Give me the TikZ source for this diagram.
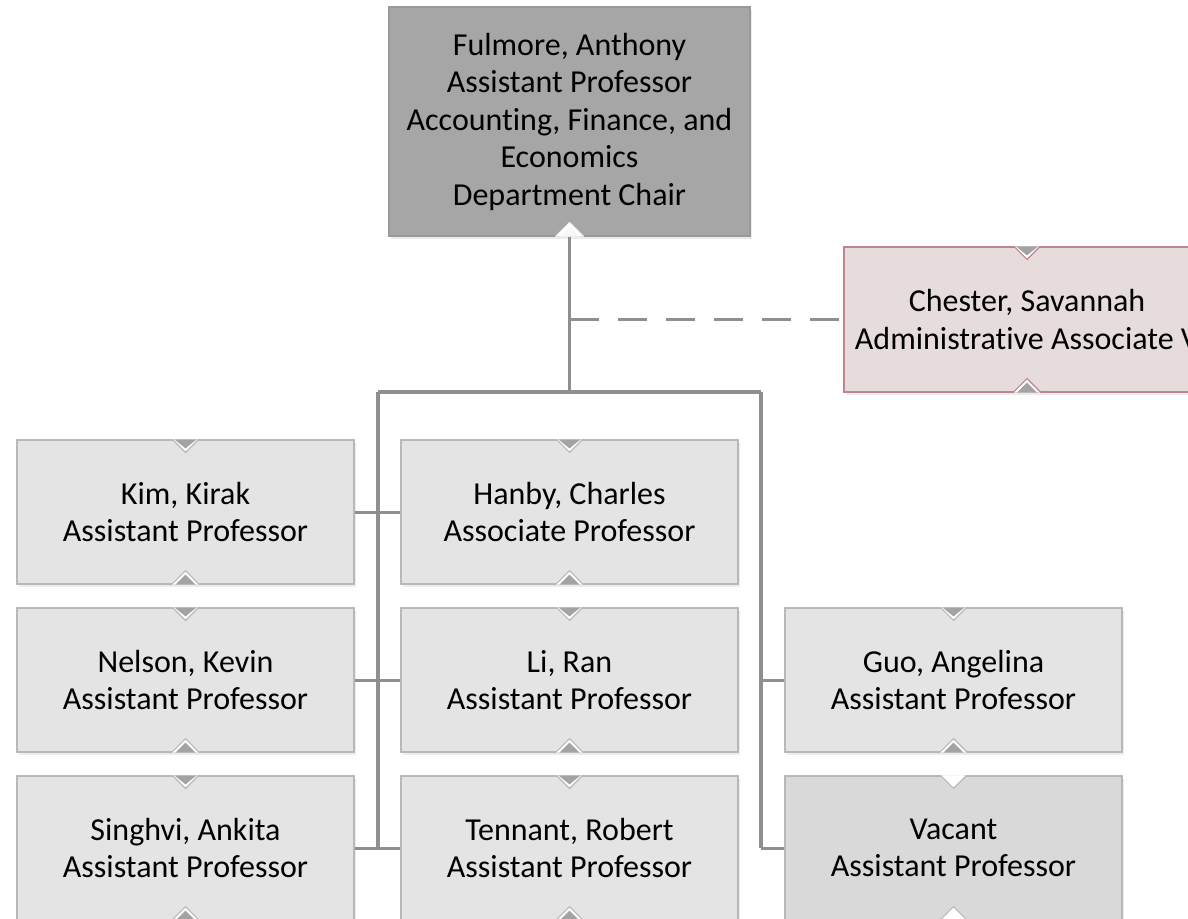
\documentclass[tikz,border=0pt]{standalone}
\usepackage{fontspec}
\setmainfont{Carlito}[Ligatures=NoCommon]
\usetikzlibrary{calc,shadows}
\definecolor{boxfill}{HTML}{E4E4E4}
\definecolor{boxline}{HTML}{B8B8B8}
\definecolor{vacfill}{HTML}{D9D9D9}
\definecolor{topfill}{HTML}{A6A6A6}
\definecolor{topline}{HTML}{999999}
\definecolor{chfill}{HTML}{E6DCDC}
\definecolor{chline}{HTML}{C08490}
\definecolor{notchdark}{HTML}{A3A3A3}
\definecolor{connc}{HTML}{8F8F8F}
\tikzset{
  orgbox/.style={rectangle, draw=boxline, fill=boxfill, line width=1.2pt,
    minimum width=337pt, minimum height=144pt, align=center, inner sep=0pt,
    font=\fontsize{32}{37.5}\selectfont,
    drop shadow={opacity=0.15, shadow xshift=1.5pt, shadow yshift=-2.5pt}},
  vacbox/.style={orgbox, fill=vacfill},
  headbox/.style={orgbox, fill=topfill, draw=topline, minimum width=361pt, minimum height=229pt},
  asstbox/.style={orgbox, fill=chfill, draw=chline, minimum width=366pt, minimum height=145pt},
  conn/.style={draw=connc, line width=3.5pt},
  dashconn/.style={conn, dash pattern=on 29pt off 19pt}
}
% #1 node, #2 border colour, #3 top inner colour
\newcommand\mytopnotch[3]{%
  \fill[white] ($(#1.north)+(-13,0)$) -- ($(#1.north)+(13,0)$) -- ($(#1.north)+(0,13)$) -- cycle;
  \fill[#3] ($(#1.north)+(-11,0)$) -- ($(#1.north)+(11,0)$) -- ($(#1.north)+(0,9)$) -- cycle;
  \draw[#2, line width=1.2pt] ($(#1.north)+(-13,0)$) -- ($(#1.north)+(0,13)$) -- ($(#1.north)+(13,0)$);
}
% #1 node, #2 border colour, #3 bottom inner colour
\newcommand\mybotnotch[3]{%
  \fill[white] ($(#1.south)+(-14,0)$) -- ($(#1.south)+(14,0)$) -- ($(#1.south)+(0,-14)$) -- cycle;
  \fill[#3] ($(#1.south)+(-10,0)$) -- ($(#1.south)+(10,0)$) -- ($(#1.south)+(0,-10)$) -- cycle;
  \draw[#2, line width=1.2pt] ($(#1.south)+(-14,0)$) -- ($(#1.south)+(0,-14)$) -- ($(#1.south)+(14,0)$);
}
\begin{document}
\begin{tikzpicture}[x=1pt,y=-1pt]
\useasboundingbox (0,0) rectangle (1188,918);
\clip (0,0) rectangle (1188,918);

% nodes
\node[headbox] (fulmore) at (569.5,121.5) {Fulmore, Anthony\\Assistant Professor\\Accounting, Finance, and\\Economics\\Department Chair};
\node[asstbox] (chester) at (1027,319.5) {Chester, Savannah\\Administrative Associate V};

\node[orgbox] (kim)     at (185.5,512) {Kim, Kirak\\Assistant Professor};
\node[orgbox] (hanby)   at (569.5,512) {Hanby, Charles\\Associate Professor};
\node[orgbox] (nelson)  at (185.5,680) {Nelson, Kevin\\Assistant Professor};
\node[orgbox] (li)      at (569.5,680) {Li, Ran\\Assistant Professor};
\node[orgbox] (guo)     at (953.5,680) {Guo, Angelina\\Assistant Professor};
\node[orgbox] (singhvi) at (185.5,848) {Singhvi, Ankita\\Assistant Professor};
\node[orgbox] (tennant) at (569.5,848) {Tennant, Robert\\Assistant Professor};
\node[vacbox] (vacant)  at (953.5,848) {Vacant\\Assistant Professor};

% notches
\mybotnotch{fulmore}{white!90!gray}{white!94!gray}
\mytopnotch{chester}{chline}{notchdark}
\mybotnotch{chester}{chline}{notchdark}
\foreach \n in {kim,hanby,nelson,li,guo,singhvi,tennant}{%
  \mytopnotch{\n}{boxline}{notchdark}
  \mybotnotch{\n}{boxline}{notchdark}}
\mytopnotch{vacant}{boxline}{white}
\mybotnotch{vacant}{boxline}{white}

% bus coordinates
\coordinate (busC) at (569.5,392);
\coordinate (busL) at (378,392);
\coordinate (busR) at (761,392);

% connectors
\draw[conn] (fulmore.south) -- (busC);
\draw[dashconn] (fulmore.south |- chester.west) -- (chester.west);
\draw[conn] (busL) -- (busR);
\draw[conn] (busL) -- (busL |- tennant.west);
\draw[conn] (busR) -- (busR |- vacant.west);
\draw[conn, line width=3pt] (kim.east) -- (hanby.west);
\draw[conn, line width=3pt] (nelson.east) -- (li.west);
\draw[conn, line width=3pt] (singhvi.east) -- (tennant.west);
\draw[conn, line width=3pt] (busR |- guo.west) -- (guo.west);
\draw[conn, line width=3pt] (busR |- vacant.west) -- (vacant.west);
\end{tikzpicture}
\end{document}
